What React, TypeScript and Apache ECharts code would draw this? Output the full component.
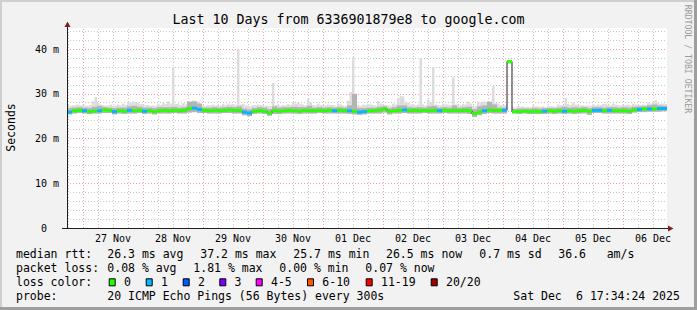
import React, { useEffect, useRef } from 'react';
import * as echarts from 'echarts';

// ---------- texts ----------
const TITLE = 'Last 10 Days from 6336901879e8 to google.com';
const Y_AXIS_NAME = 'Seconds';
const CREDIT = 'RRDTOOL / TOBI OETIKER';
const DAY_LABELS = ['27 Nov', '28 Nov', '29 Nov', '30 Nov', '01 Dec', '02 Dec', '03 Dec', '04 Dec', '05 Dec', '06 Dec'];
const Y_TICKS = [0, 10, 20, 30, 40];
const RTT_LABEL = 'median rtt:';
const RTT_STATS = ['26.3 ms avg', '37.2 ms max', '25.7 ms min', '26.5 ms now', '0.7 ms sd', '36.6', 'am/s'];
const LOSS_LABEL = 'packet loss:';
const LOSS_STATS = ['0.08 % avg', '1.81 % max', '0.00 % min', '0.07 % now'];
const COLOR_LABEL = 'loss color:';
const PROBE_LABEL = 'probe:';
const PROBE_TEXT = '20 ICMP Echo Pings (56 Bytes) every 300s';
const STAMP_DAY = 'Sat Dec';
const STAMP_TIME = '6 17:34:24 2025';

// ---------- time frame (hours since Nov 26 17:34:24) ----------
const SPAN_HOURS = 240;
const BIN_HOURS = 2;
const FIRST_MIDNIGHT_HOURS = 6.4267;
const Y_MAX = 44.7;
const PINGS = 20;

// ---------- data (ms), one value per 2-hour bin ----------
const medianRtt = [
  25.9, 26.2, 26.3, 26.2, 26.0, 26.1, 26.2, 26.4, 26.3, 26.0,
  26.2, 26.1, 26.3, 26.2, 26.3, 26.1, 26.2, 26.0, 26.2, 26.3,
  26.2, 26.3, 26.2, 26.3, 26.7, 26.8, 26.5, 26.3, 26.2, 26.3,
  26.2, 26.3, 26.4, 26.3, 26.2, 25.9, 25.7, 26.1, 26.2, 26.1,
  25.7, 26.2, 26.1, 26.2, 26.3, 26.2, 26.1, 26.3, 26.2, 26.2,
  26.3, 26.2, 26.3, 26.2, 26.3, 26.2, 26.2, 26.1, 25.9, 26.0,
  26.2, 26.2, 26.3, 26.6, 26.1, 26.2, 26.3, 26.4, 26.2, 26.3,
  26.2, 26.3, 26.2, 26.3, 26.2, 26.3, 26.2, 26.3, 26.2, 26.3,
  26.2, 25.6, 25.9, 26.2, 26.4, 26.3, 26.3, 26.3, 37.2, 26.0,
  26.0, 26.1, 26.0, 26.1, 26.0, 26.1, 26.2, 26.1, 26.2, 26.1,
  26.2, 26.1, 26.2, 26.3, 26.1, 26.3, 26.3, 26.2, 26.3, 26.2,
  26.2, 26.2, 26.1, 26.4, 26.5, 26.6, 26.6, 26.6, 26.7, 26.7,
];

const lossPct = [
  0.21, 0, 0, 0.21, 0, 0, 0.42, 0, 0, 0.21,
  0, 0, 0.21, 0, 0, 0.21, 0, 0, 0, 0,
  0, 0, 0, 0, 0, 0.42, 0.21, 0, 0, 0,
  0, 0, 0, 0, 0, 0.21, 0.42, 0, 0, 0,
  0, 0, 0, 0, 0, 0, 0, 0, 0, 0,
  0, 0, 0, 0.21, 0, 0, 0.21, 0, 0.42, 0.21,
  0, 0, 0, 0, 0, 0, 0, 0.21, 0, 0,
  0, 0, 0, 0, 0.21, 0, 0, 0, 0, 0,
  0, 0, 0, 0.21, 0, 0, 0, 1.81, 0, 0,
  0, 0, 0, 0, 0, 0.21, 0, 0, 0, 0.21,
  0, 0, 0, 0, 0, 0.21, 0.42, 0, 0.21, 0,
  0, 0, 0, 0, 0.21, 0, 0.21, 0, 0.42, 0.21,
];

const smokeMin = [
  25.4, 25.6, 25.7, 25.6, 25.5, 25.6, 25.6, 25.7, 25.7, 25.4,
  25.6, 25.5, 25.6, 25.6, 25.7, 25.5, 25.6, 25.4, 25.6, 25.6,
  25.6, 25.7, 25.6, 25.6, 25.8, 25.9, 25.7, 25.7, 25.6, 25.6,
  25.6, 25.7, 25.7, 25.6, 25.6, 25.2, 25.0, 25.5, 25.6, 25.5,
  25.1, 25.5, 25.5, 25.6, 25.6, 25.6, 25.5, 25.6, 25.6, 25.6,
  25.7, 25.6, 25.6, 25.6, 25.6, 25.6, 25.5, 25.4, 25.3, 25.4,
  25.6, 25.6, 25.6, 25.8, 25.4, 25.6, 25.6, 25.7, 25.6, 25.6,
  25.6, 25.7, 25.6, 25.6, 25.6, 25.7, 25.6, 25.6, 25.6, 25.6,
  25.5, 24.8, 25.2, 25.5, 25.7, 25.6, 25.6, 25.6, 36.8, 25.6,
  25.5, 25.6, 25.5, 25.5, 25.5, 25.5, 25.6, 25.5, 25.6, 25.5,
  25.6, 25.5, 25.6, 25.6, 25.3, 25.7, 25.7, 25.6, 25.6, 25.6,
  25.6, 25.6, 25.5, 25.8, 25.9, 25.9, 26.0, 26.0, 26.0, 26.1,
];

const smokeMid = [
  26.8, 26.9, 27.0, 26.9, 26.8, 27.1, 27.3, 27.0, 26.9, 26.8,
  26.9, 26.9, 27.2, 27.3, 27.1, 26.9, 26.9, 26.8, 27.0, 27.0,
  27.0, 27.1, 26.9, 27.0, 28.2, 28.3, 27.8, 26.9, 26.9, 27.0,
  26.9, 27.0, 27.1, 27.0, 27.2, 26.7, 26.5, 26.8, 27.0, 26.9,
  26.6, 27.2, 26.9, 27.0, 27.0, 27.1, 27.0, 27.0, 27.3, 26.9,
  27.0, 26.9, 27.0, 26.9, 27.0, 26.9, 27.4, 30.0, 26.8, 26.8,
  26.9, 26.9, 27.1, 27.2, 26.8, 27.0, 27.4, 27.4, 27.0, 26.9,
  27.0, 26.9, 27.2, 27.3, 26.9, 27.0, 26.9, 27.4, 26.9, 27.0,
  27.1, 26.6, 27.2, 27.4, 28.2, 27.6, 26.9, 26.9, 37.3, 26.6,
  26.7, 26.7, 26.7, 26.8, 26.7, 26.8, 26.8, 26.8, 26.9, 27.1,
  26.9, 27.0, 26.9, 27.0, 26.8, 27.0, 27.0, 26.9, 27.0, 27.0,
  26.9, 27.0, 26.9, 27.1, 27.2, 27.2, 27.4, 27.6, 27.4, 27.3,
];

// highest ping, one value per hour
const smokeMaxHourly = [
  27.5, 27.3, 27.4, 27.5, 27.6, 27.4, 27.5, 27.4, 27.3, 27.5, 28.3, 29.3, 27.9, 27.6, 27.5, 27.4, 27.4, 27.6, 27.3, 27.4,
  27.6, 27.4, 27.8, 27.5, 28.2, 27.9, 28.3, 28.1, 28.0, 27.7, 27.6, 27.4, 27.5, 27.3, 27.4, 27.3, 27.8, 27.5, 28.0, 27.7,
  28.3, 27.8, 36.0, 27.7, 27.8, 27.5, 27.9, 27.6, 28.4, 28.3, 28.5, 28.4, 28.2, 27.8, 27.4, 27.3, 27.5, 27.4, 27.6, 27.4,
  27.5, 27.4, 27.8, 27.5, 27.8, 27.6, 27.7, 27.5, 40.0, 27.6, 27.8, 27.4, 27.3, 27.2, 27.5, 27.4, 27.6, 27.5, 27.4, 27.3,
  27.3, 27.2, 32.4, 27.5, 27.5, 27.3, 27.5, 27.4, 27.7, 27.5, 28.1, 27.8, 28.0, 27.7, 27.6, 27.4, 28.8, 28.0, 27.5, 27.4,
  27.8, 27.5, 27.5, 27.4, 27.6, 27.5, 27.5, 27.3, 27.8, 27.6, 27.4, 27.3, 28.5, 30.4, 38.2, 29.5, 27.4, 27.3, 27.6, 27.5,
  27.7, 27.6, 27.5, 27.4, 28.4, 27.8, 27.6, 27.5, 27.4, 27.3, 27.8, 27.6, 29.0, 29.5, 29.4, 28.2, 28.0, 27.6, 27.6, 27.4,
  27.6, 38.0, 27.6, 27.4, 28.7, 28.0, 36.0, 27.6, 27.5, 27.4, 27.8, 27.6, 27.6, 27.5, 33.7, 27.6, 27.6, 27.4, 27.8, 27.6,
  28.2, 27.8, 27.3, 27.2, 28.3, 28.0, 28.3, 28.2, 28.3, 28.2, 31.7, 28.0, 27.8, 27.5, 27.5, 27.4, 37.6, 37.6, 27.0, 26.9,
  27.3, 27.1, 27.2, 27.0, 27.1, 27.0, 27.4, 27.2, 27.2, 27.1, 27.2, 27.0, 27.3, 27.2, 27.2, 27.1, 27.6, 27.4, 27.5, 29.0,
  27.7, 27.5, 28.0, 27.6, 27.5, 27.4, 27.4, 27.3, 27.4, 27.3, 27.5, 27.4, 27.6, 27.5, 27.7, 27.8, 27.5, 27.4, 27.8, 27.6,
  27.5, 27.4, 27.6, 27.5, 27.6, 27.4, 27.8, 27.6, 27.5, 27.4, 27.6, 27.5, 28.0, 27.8, 28.1, 28.6, 27.9, 27.7, 27.8, 27.7,
];

const LOSS_CLASSES = [
  { label: '0', upTo: 0, color: '#26ff00' },
  { label: '1', upTo: 1, color: '#00b8ff' },
  { label: '2', upTo: 2, color: '#0059ff' },
  { label: '3', upTo: 3, color: '#7e00ff' },
  { label: '4-5', upTo: 5, color: '#ff00ff' },
  { label: '6-10', upTo: 10, color: '#ff5500' },
  { label: '11-19', upTo: 19, color: '#ff0000' },
  { label: '20/20', upTo: 20, color: '#a10000' },
];

// ---------- styles / layout ----------
const MONO = '"DejaVu Sans Mono", monospace';
const BG = '#f2f2f2';
const SHADE_A = '#cfcfcf';
const SHADE_B = '#9e9e9e';
const GRID_MINOR = 'rgba(143,143,143,0.5)';
const GRID_MAJOR = 'rgba(222,79,79,0.55)';
const ARROW = '#801f1f';
const AXIS = '#1f1f1f';
const SMOKE_DARK = '#b4b4b4';
const SMOKE_LIGHT = '#dcdcdc';
const MEDIAN_LINE = '#202020';

const GRID_LEFT = 67;
const GRID_TOP = 28;
const GRID_W = 600;
const GRID_H = 200;

const LEG_X = 16;
const ROW_Y = [254.3, 268.3, 282.3, 296];
const RTT_X = [107.3, 200.3, 293.3, 386, 479.3, 558.3, 606.7];
const LOSS_X = [107.3, 193.3, 279.3, 365.3];
const BOX_X = [108.7, 145.7, 182.7, 219.3, 255.7, 307, 365.7, 430.7];

function txt(text: string, x: number, y: number, size: number, extra: any = {}) {
  return {
    type: 'text',
    x,
    y,
    silent: true,
    ...extra,
    style: {
      text,
      fill: '#000',
      fontSize: size,
      fontFamily: MONO,
      align: 'left',
      textAlign: 'left',
      verticalAlign: 'middle',
      textVerticalAlign: 'middle',
      ...(extra.style || {}),
    },
  };
}

function buildOption() {
  const centers = medianRtt.map((_, i) => i * BIN_HOURS + BIN_HOURS / 2);
  const smokeData = centers.map((c, i) => [c, smokeMin[i], smokeMid[i]]);
  const peakData = smokeMaxHourly.map((v, h) => [h + 0.5, v, smokeMin[Math.floor(h / BIN_HOURS)]]);
  const bandData = centers.map((c, i) => [c, medianRtt[i], lossPct[i]]);
  const lineData = centers.map((c, i) => [c, medianRtt[i]]);

  const gridLines: any[] = [];
  for (let h = FIRST_MIDNIGHT_HOURS - 6; h <= SPAN_HOURS; h += 6) {
    const k = (h - FIRST_MIDNIGHT_HOURS) / 24;
    const major = Math.abs(k - Math.round(k)) < 1e-6;
    gridLines.push({ xAxis: h, lineStyle: { color: major ? GRID_MAJOR : GRID_MINOR, width: 1, type: [1, 2] } });
  }
  for (let v = 2; v < Y_MAX; v += 2) {
    const major = v % 10 === 0;
    gridLines.push({ yAxis: v, lineStyle: { color: major ? GRID_MAJOR : GRID_MINOR, width: 1, type: [1, 2] } });
  }

  const labelHours = DAY_LABELS.map((_, i) => FIRST_MIDNIGHT_HOURS + 12 + 24 * i);

  const graphic: any[] = [
    { type: 'rect', shape: { x: 0, y: 0, width: 697, height: 2 }, style: { fill: SHADE_A }, silent: true },
    { type: 'rect', shape: { x: 0, y: 0, width: 2, height: 310 }, style: { fill: SHADE_A }, silent: true },
    { type: 'rect', shape: { x: 0, y: 307, width: 697, height: 3 }, style: { fill: SHADE_B }, silent: true },
    { type: 'rect', shape: { x: 694, y: 0, width: 3, height: 310 }, style: { fill: SHADE_B }, silent: true },
    { type: 'line', shape: { x1: 67.5, y1: 28, x2: 67.5, y2: 24 }, style: { stroke: AXIS, lineWidth: 1 }, silent: true, z: 20 },
    { type: 'line', shape: { x1: 62, y1: 228.5, x2: 670, y2: 228.5 }, style: { stroke: AXIS, lineWidth: 1 }, silent: true, z: 20 },
    { type: 'polygon', shape: { points: [[64.5, 27], [70.5, 27], [67.5, 21.5]] }, style: { fill: ARROW }, silent: true, z: 20 },
    { type: 'polygon', shape: { points: [[668, 225.5], [668, 231.5], [673.5, 228.5]] }, style: { fill: ARROW }, silent: true, z: 20 },
    txt(TITLE, 348.5, 19.5, 13.3, { style: { align: 'center', textAlign: 'center' } }),
    txt(Y_AXIS_NAME, 10.5, 127.5, 11.5, { rotation: Math.PI / 2, style: { align: 'center', textAlign: 'center' } }),
    txt(CREDIT, 688, 59, 8.2, { rotation: -Math.PI / 2, style: { align: 'center', textAlign: 'center', fill: '#9a9a9a' } }),
    txt(RTT_LABEL, LEG_X, ROW_Y[0], 11.5),
    ...RTT_STATS.map((s, i) => txt(s, RTT_X[i], ROW_Y[0], 11.5)),
    txt(LOSS_LABEL, LEG_X, ROW_Y[1], 11.5),
    ...LOSS_STATS.map((s, i) => txt(s, LOSS_X[i], ROW_Y[1], 11.5)),
    txt(COLOR_LABEL, LEG_X, ROW_Y[2], 11.5),
    ...LOSS_CLASSES.map((k, i) => ({
      type: 'rect',
      shape: { x: BOX_X[i] + 0.5, y: ROW_Y[2] - 3.5, width: 6, height: 7 },
      style: { fill: k.color, stroke: '#000', lineWidth: 1 },
      silent: true,
    })),
    ...LOSS_CLASSES.map((k, i) => txt(k.label, BOX_X[i] + 15.3, ROW_Y[2], 11.5)),
    txt(PROBE_LABEL, LEG_X, ROW_Y[3], 11.5),
    txt(PROBE_TEXT, 107.3, ROW_Y[3], 11.5),
    txt(STAMP_DAY, 513.3, ROW_Y[3], 11.5),
    txt(STAMP_TIME, 513.3 + 9 * 6.97, ROW_Y[3], 11.5),
  ];

  return {
    animation: false,
    backgroundColor: BG,
    grid: {
      left: GRID_LEFT,
      top: GRID_TOP,
      width: GRID_W,
      height: GRID_H,
      show: true,
      backgroundColor: '#ffffff',
      borderWidth: 0,
    },
    xAxis: {
      type: 'value',
      min: 0,
      max: SPAN_HOURS,
      z: 10,
      axisLine: { show: true, onZero: false, lineStyle: { color: AXIS, width: 1 } },
      axisTick: { show: false },
      splitLine: { show: false },
      axisLabel: {
        customValues: labelHours,
        formatter: (v: number) => DAY_LABELS[Math.round((v - FIRST_MIDNIGHT_HOURS - 12) / 24)] ?? '',
        fontFamily: MONO,
        fontSize: 10,
        color: '#000',
        margin: 5,
      },
    },
    yAxis: {
      type: 'value',
      min: 0,
      max: Y_MAX,
      z: 10,
      axisLine: { show: true, lineStyle: { color: AXIS, width: 1 } },
      axisTick: { show: false },
      splitLine: { show: false },
      axisLabel: {
        customValues: Y_TICKS,
        formatter: (v: number) => (v === 0 ? '{z|0}' : `${v} m`),
        rich: { z: { padding: [0, 12, 0, 0], fontFamily: MONO, fontSize: 10, color: '#000' } },
        fontFamily: MONO,
        fontSize: 10,
        color: '#000',
        margin: 8,
      },
    },
    graphic,
    series: [
      {
        type: 'line',
        name: 'grid',
        data: lineData,
        z: 1,
        silent: true,
        showSymbol: false,
        lineStyle: { opacity: 0, width: 0 },
        markLine: {
          silent: true,
          z: 1,
          symbol: ['none', 'none'],
          label: { show: false },
          emphasis: { disabled: true },
          animation: false,
          data: gridLines,
        },
      },
      {
        type: 'custom',
        name: 'smoke peaks',
        z: 2,
        silent: true,
        data: peakData,
        encode: { x: 0, y: [1, 2] },
        renderItem: (params: any, api: any) => {
          const c = api.value(0);
          const x0 = api.coord([c - 0.5, 0])[0];
          const x1 = api.coord([c + 0.5, 0])[0];
          const yHi = api.coord([c, api.value(1)])[1];
          const yLo = api.coord([c, api.value(2)])[1];
          return {
            type: 'rect',
            shape: { x: x0, y: yHi, width: x1 - x0, height: Math.max(0, yLo - yHi) },
            style: { fill: SMOKE_LIGHT },
          };
        },
      },
      {
        type: 'custom',
        name: 'smoke',
        z: 3,
        silent: true,
        data: smokeData,
        encode: { x: 0, y: [1, 2] },
        renderItem: (params: any, api: any) => {
          const c = api.value(0);
          const x0 = api.coord([c - BIN_HOURS / 2, 0])[0];
          const x1 = api.coord([c + BIN_HOURS / 2, 0])[0];
          const yLo = api.coord([c, api.value(1)])[1];
          const yMid = api.coord([c, api.value(2)])[1];
          return {
            type: 'rect',
            shape: { x: x0, y: yMid, width: x1 - x0, height: yLo - yMid },
            style: { fill: SMOKE_DARK },
          };
        },
      },
      {
        type: 'line',
        name: 'median',
        data: lineData,
        z: 4,
        silent: true,
        step: 'middle',
        showSymbol: false,
        lineStyle: { color: MEDIAN_LINE, width: 1 },
      },
      {
        type: 'custom',
        name: 'loss',
        z: 5,
        silent: true,
        data: bandData,
        encode: { x: 0, y: 1 },
        renderItem: (params: any, api: any) => {
          const c = api.value(0);
          const x0 = api.coord([c - BIN_HOURS / 2, 0])[0];
          const x1 = api.coord([c + BIN_HOURS / 2, 0])[0];
          const y = api.coord([c, api.value(1)])[1];
          const lost = (api.value(2) / 100) * PINGS;
          const cls = LOSS_CLASSES.find((k) => lost <= k.upTo) || LOSS_CLASSES[LOSS_CLASSES.length - 1];
          return { type: 'rect', shape: { x: x0, y: y - 1.5, width: x1 - x0, height: 3 }, style: { fill: cls.color } };
        },
      },
    ],
  };
}

export default function App() {
  const ref = useRef<HTMLDivElement>(null);
  useEffect(() => {
    document.body.style.margin = '0';
    const chart = echarts.init(ref.current!, null, { renderer: 'svg' });
    chart.setOption(buildOption() as any);
    return () => chart.dispose();
  }, []);
  return <div ref={ref} style={{ width: 697, height: 310 }} />;
}
